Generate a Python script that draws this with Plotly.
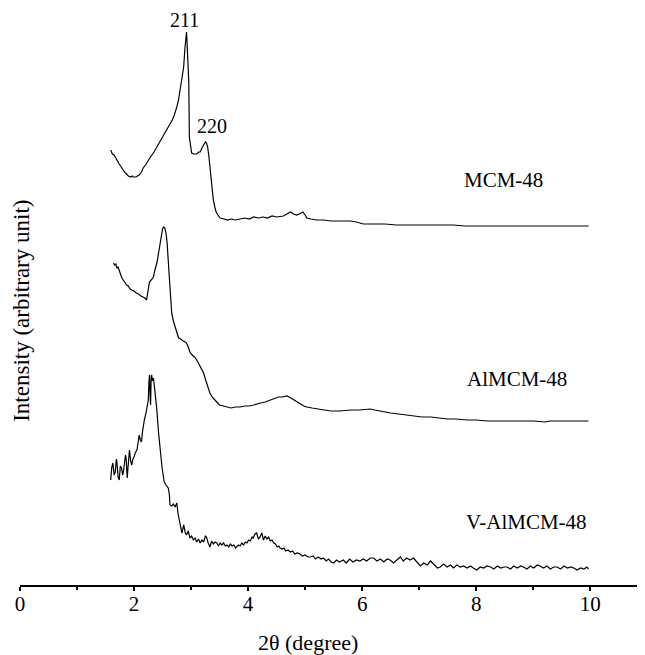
import plotly.graph_objects as go

# Series: 2theta (degree) and stacked intensity (arbitrary unit)
mcm_x = [1.59,1.62,1.65,1.68,1.70,1.74,1.77,1.81,1.85,1.88,1.90,1.94,1.97,1.99,2.03,2.06,2.09,2.13,2.16,2.20,2.25,2.30,2.35,2.40,2.45,2.49,2.52,2.56,2.60,2.63,2.67,2.70,2.72,2.75,2.78,2.80,2.82,2.85,2.87,2.89,2.91,2.92,2.93,2.94,2.95,2.96,2.97,2.99,3.01,3.05,3.10,3.13,3.16,3.20,3.23,3.25,3.27,3.29,3.31,3.32,3.34,3.35,3.37,3.39,3.42,3.44,3.47,3.51,3.58,3.64,3.70,3.78,3.86,3.94,4.02,4.10,4.18,4.26,4.34,4.42,4.50,4.58,4.62,4.68,4.74,4.80,4.85,4.90,4.96,5.00,5.03,5.10,5.20,5.32,5.45,5.60,5.79,5.90,6.02,6.20,6.40,6.60,6.80,7.00,7.20,7.40,7.60,7.80,8.00,8.20,8.36,8.60,9.00,9.50,9.97]
mcm_y = [433,429,428,424,423,419,416,413,410,408,407,406,407,406,406,407,408,411,415,418,423,427,431,436,441,444,448,452,455,458,463,467,470,476,483,490,500,508,516,533,548,551,540,525,525,500,446,435,430,429,429,431,431,436,440,441,440,436,428,423,410,403,392,383,375,371,368,365,364,363,364,363,364,365,364,366,365,366,365,367,366,367,367,369,371,369,368,369,371,368,365,364,363,363,362,362,362,361,359,359,359,358,358,358,358,358,358,357,357,357,357,357,357,357,357]

al_x = [1.64,1.66,1.68,1.70,1.72,1.75,1.78,1.81,1.84,1.87,1.90,1.93,1.96,2.00,2.04,2.08,2.12,2.16,2.19,2.22,2.24,2.27,2.30,2.34,2.37,2.40,2.43,2.46,2.48,2.50,2.52,2.54,2.56,2.58,2.60,2.62,2.64,2.66,2.69,2.72,2.75,2.78,2.82,2.86,2.90,2.92,2.95,2.98,3.02,3.06,3.10,3.14,3.18,3.22,3.25,3.27,3.30,3.33,3.37,3.41,3.45,3.50,3.56,3.63,3.70,3.78,3.86,3.94,4.02,4.10,4.15,4.22,4.30,4.39,4.46,4.53,4.60,4.68,4.75,4.80,4.85,4.92,4.98,5.03,5.12,5.22,5.32,5.45,5.61,5.80,5.95,6.06,6.14,6.22,6.30,6.37,6.50,6.64,6.78,6.92,7.05,7.20,7.37,7.50,7.65,7.84,8.00,8.20,8.36,8.60,9.00,9.20,9.30,9.50,9.97]
al_y = [320,318,319,315,316,310,306,303,300,298,297,294,293,292,290,289,287,286,285,283,292,301,303,306,314,320,330,340,348,354,356,355,350,340,322,303,285,270,262,256,250,245,244,242,241,240,236,231,228,226,223,219,215,210,204,200,195,190,186,183,181,178,177,176,175,176,176,177,177,178,179,180,181,183,184,186,186,187,185,183,181,179,177,176,175,174,173,172,172,173,173,174,174,173,172,171,170,169,168,167,166,166,165,164,164,163,163,162,162,162,162,161,162,162,162]

v_x = [1.59,1.61,1.63,1.65,1.67,1.69,1.70,1.72,1.74,1.76,1.78,1.80,1.81,1.83,1.85,1.86,1.88,1.90,1.92,1.94,1.96,1.98,2.00,2.02,2.05,2.07,2.09,2.11,2.13,2.15,2.16,2.18,2.21,2.23,2.25,2.26,2.27,2.28,2.29,2.30,2.31,2.32,2.34,2.36,2.38,2.40,2.43,2.46,2.49,2.51,2.53,2.56,2.60,2.62,2.63,2.66,2.69,2.72,2.75,2.77,2.78,2.81,2.84,2.86,2.87,2.90,2.92,2.95,2.98,3.01,3.04,3.07,3.10,3.13,3.16,3.19,3.22,3.25,3.27,3.30,3.33,3.36,3.39,3.42,3.45,3.48,3.51,3.54,3.57,3.60,3.63,3.66,3.69,3.72,3.75,3.78,3.80,3.83,3.86,3.89,3.92,3.95,3.98,4.01,4.04,4.07,4.09,4.12,4.15,4.18,4.21,4.24,4.27,4.30,4.33,4.36,4.39,4.42,4.45,4.48,4.51,4.54,4.56,4.60,4.63,4.66,4.70,4.74,4.78,4.82,4.86,4.91,4.95,5.00,5.05,5.09,5.14,5.18,5.23,5.28,5.32,5.37,5.41,5.46,5.50,5.55,5.60,5.67,5.72,5.78,5.84,5.90,5.96,6.02,6.08,6.14,6.20,6.26,6.32,6.38,6.44,6.49,6.55,6.61,6.67,6.72,6.78,6.84,6.90,6.96,7.02,7.08,7.14,7.20,7.26,7.32,7.37,7.43,7.49,7.55,7.60,7.66,7.72,7.78,7.84,7.90,7.95,8.01,8.07,8.13,8.19,8.25,8.31,8.37,8.43,8.49,8.54,8.60,8.66,8.72,8.78,8.83,8.89,8.95,9.01,9.07,9.12,9.18,9.24,9.30,9.36,9.42,9.48,9.54,9.60,9.66,9.71,9.77,9.83,9.89,9.94,9.97]
v_y = [103,116,120,108,111,124,121,106,103,117,115,108,110,122,128,125,105,120,133,122,118,124,126,130,133,140,148,143,141,152,156,163,170,176,183,200,208,190,178,206,208,202,205,195,185,173,150,130,116,108,101,98,95,88,78,77,79,76,80,70,66,58,50,56,58,50,48,52,45,47,43,45,41,44,40,43,41,47,46,40,36,42,39,41,40,37,40,38,40,37,38,36,39,37,38,35,36,38,37,40,38,41,40,43,42,46,45,49,50,44,46,50,43,47,44,46,42,43,40,39,36,37,35,34,35,32,33,31,32,29,30,29,27,28,26,26,27,24,26,24,25,22,24,21,20,23,21,23,20,24,21,23,22,24,22,25,25,22,24,21,24,23,20,23,26,22,25,23,25,21,17,20,18,22,18,15,16,19,16,18,15,18,16,17,15,17,15,13,16,15,17,16,14,17,15,16,16,14,17,15,17,16,14,17,15,18,17,15,17,14,16,16,14,17,15,16,15,13,15,14,16,14]

series_names = ["MCM-48", "AlMCM-48", "V-AlMCM-48"]
label_x = [8.47, 8.72, 8.89]
label_y = [403, 204, 61]
peak_labels = ["211", "220"]
peak_x = [2.88, 3.37]
peak_y = [575, 457]
x_ticks = [0, 2, 4, 6, 8, 10]

FONT = "Liberation Serif, Times New Roman, serif"
fig = go.Figure()
for xs, ys, nm in [(mcm_x, mcm_y, series_names[0]), (al_x, al_y, series_names[1]), (v_x, v_y, series_names[2])]:
    fig.add_trace(go.Scatter(x=xs, y=ys, mode="lines", name=nm,
                             line=dict(color="black", width=1.2), showlegend=False))

ann = []
for t, x, y in zip(series_names, label_x, label_y):
    ann.append(dict(x=x, y=y, xref="x", yref="y", text=t, showarrow=False,
                    xanchor="center", yanchor="middle",
                    font=dict(family=FONT, size=21, color="black")))
ann.append(dict(x=peak_x[0], y=peak_y[0], xref="x", yref="y", text=peak_labels[0], showarrow=False,
                xanchor="center", yanchor="top", borderpad=0,
                font=dict(family=FONT, size=20, color="black")))
ann.append(dict(x=peak_x[1], y=peak_y[1], xref="x", yref="y", text=peak_labels[1], showarrow=False,
                xanchor="center", yanchor="middle",
                font=dict(family=FONT, size=20, color="black")))
ann.append(dict(x=0.461, y=-0.099, xref="paper", yref="paper", text="2θ (degree)",
                xanchor="center", yanchor="middle",
                showarrow=False, font=dict(family=FONT, size=22, color="black")))
ann.append(dict(x=0.003, y=0.475, xref="paper", yref="paper", text="Intensity (arbitrary unit)",
                xanchor="center", yanchor="middle",
                textangle=-90, showarrow=False, font=dict(family=FONT, size=23, color="black")))

fig.update_layout(
    width=637, height=647,
    margin=dict(l=12, r=0, t=0, b=70),
    paper_bgcolor="white", plot_bgcolor="white",
    annotations=ann,
    font=dict(family=FONT, size=21, color="black"),
)
fig.update_xaxes(range=[0, 10.96], tickvals=x_ticks, ticks="outside", ticklen=4,
                 tickwidth=1.5, tickcolor="black", showline=True, linecolor="black",
                 linewidth=2, showgrid=False, zeroline=False, ticklabelstandoff=-5,
                 minor=dict(dtick=1, tick0=0, ticks="outside", ticklen=3, tickcolor="black", showgrid=False),
                 tickfont=dict(family=FONT, size=21, color="black"))
fig.update_yaxes(range=[-2, 575], showticklabels=False, ticks="", showline=False,
                 showgrid=False, zeroline=False)

fig.write_html("out.html")
